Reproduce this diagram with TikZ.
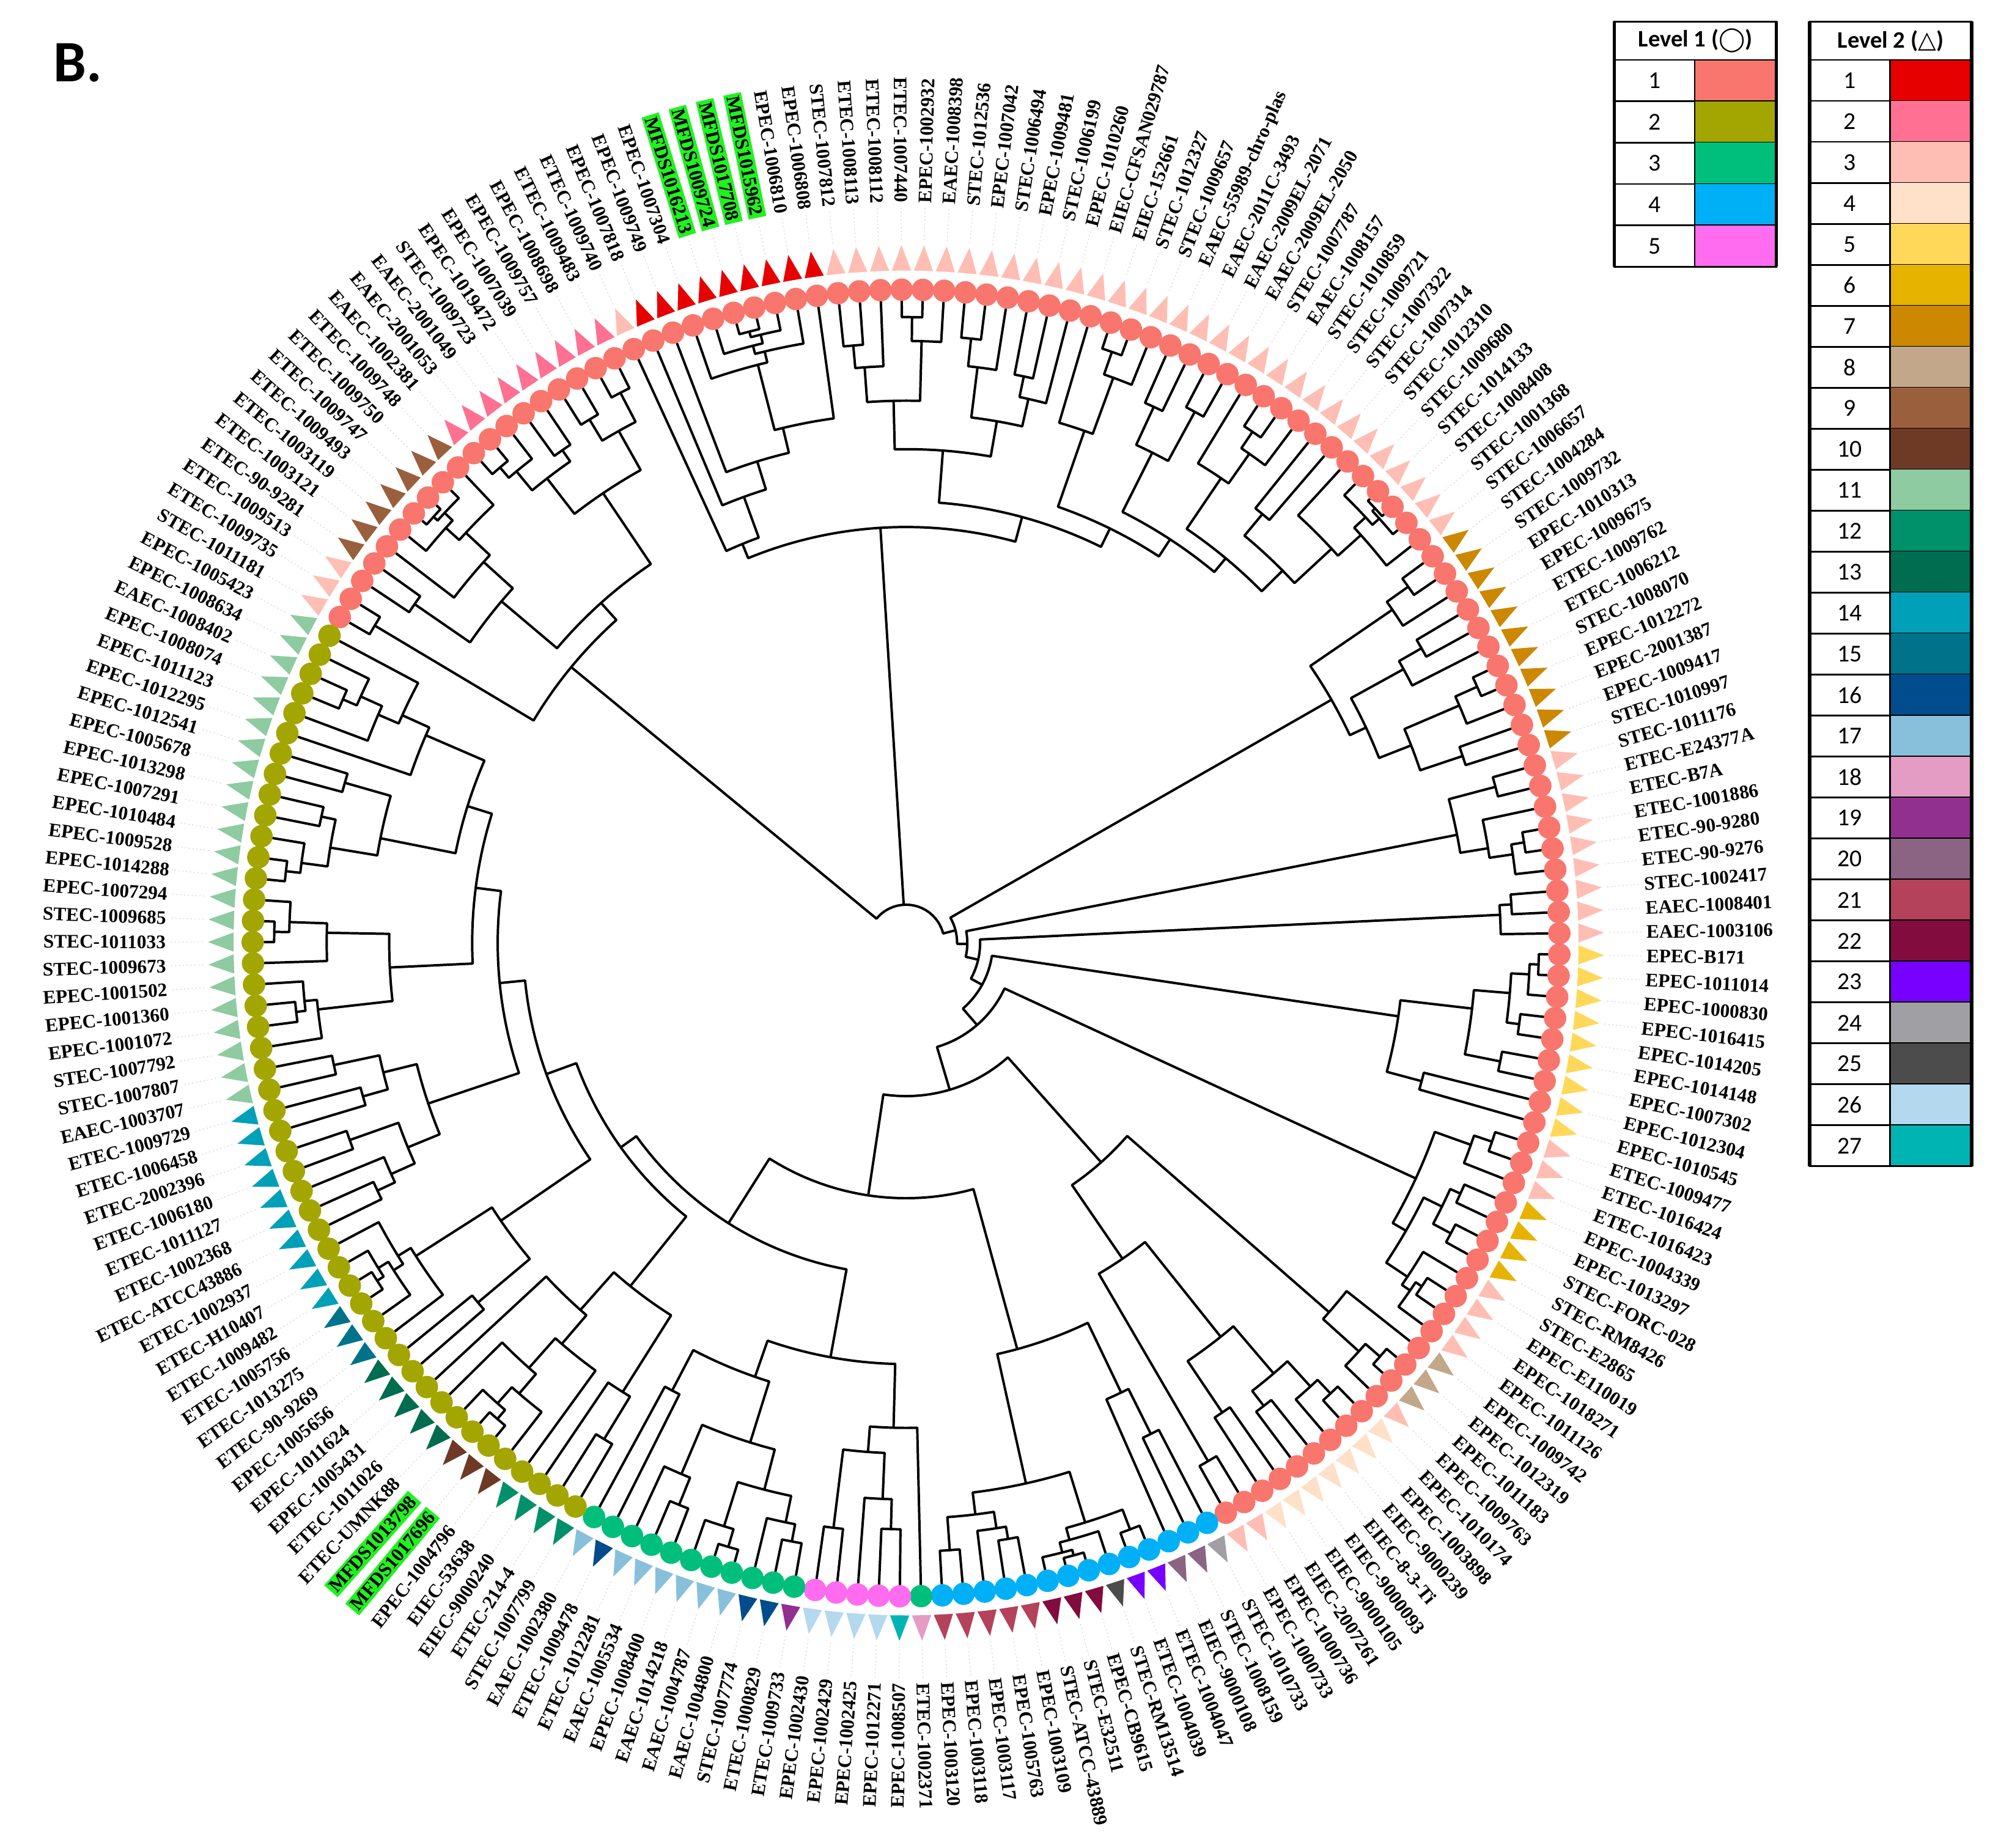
\documentclass[tikz,border=0pt]{standalone}
\usepackage{fontspec}
\setmainfont{Liberation Serif}
\newfontfamily\legfamily{Carlito}
\newfontfamily\symfamily{DejaVu Sans}
\usetikzlibrary{positioning}

% level 1 (circles)
\definecolor{lvA1}{HTML}{F8766D}
\definecolor{lvA2}{HTML}{A3A500}
\definecolor{lvA3}{HTML}{00BF7D}
\definecolor{lvA4}{HTML}{00B0F6}
\definecolor{lvA5}{HTML}{FF6CF0}
% level 2 (triangles)
\definecolor{lvB1}{HTML}{E60000}
\definecolor{lvB2}{HTML}{FF7092}
\definecolor{lvB3}{HTML}{FFBEB4}
\definecolor{lvB4}{HTML}{FFE0C8}
\definecolor{lvB5}{HTML}{FFD85A}
\definecolor{lvB6}{HTML}{E6B400}
\definecolor{lvB7}{HTML}{CC8800}
\definecolor{lvB8}{HTML}{C2A78A}
\definecolor{lvB9}{HTML}{9A5F3C}
\definecolor{lvB10}{HTML}{6E3A26}
\definecolor{lvB11}{HTML}{8ECBA0}
\definecolor{lvB12}{HTML}{00906A}
\definecolor{lvB13}{HTML}{006C50}
\definecolor{lvB14}{HTML}{00A0B8}
\definecolor{lvB15}{HTML}{00728A}
\definecolor{lvB16}{HTML}{004C8C}
\definecolor{lvB17}{HTML}{88C0DC}
\definecolor{lvB18}{HTML}{E49CC4}
\definecolor{lvB19}{HTML}{923090}
\definecolor{lvB20}{HTML}{8A6482}
\definecolor{lvB21}{HTML}{B4425A}
\definecolor{lvB22}{HTML}{820C3E}
\definecolor{lvB23}{HTML}{7800FF}
\definecolor{lvB24}{HTML}{A0A0A4}
\definecolor{lvB25}{HTML}{4C4C4C}
\definecolor{lvB26}{HTML}{B4D8EE}
\definecolor{lvB27}{HTML}{00B4B4}
\definecolor{hlgreen}{HTML}{22F022}

\def\thz{151.94}
\def\stp{1.86528}
\def\rleaf{503}

\tikzset{
  branch/.style={line width=1.9pt, line cap=round, line join=round},
  tag/.style={font=\bfseries\fontsize{15}{15}\selectfont, inner sep=0pt},
  taghl/.style={tag, fill=hlgreen, inner sep=2pt},
  guide/.style={black!14, line width=0.6pt, dash pattern=on 1.2pt off 1.8pt},
  cell/.style={line width=1.3pt},
  legnum/.style={font=\legfamily\fontsize{19}{19}\selectfont},
  leghead/.style={font=\legfamily\bfseries\fontsize{18.5}{18.5}\selectfont},
}

% radius of a child range under a parent radius
\newcommand\gchild[3]{%
  \ifnum#1=#2\relax\edef\gR{\rleaf}\else
    \pgfmathtruncatemacro\gI{mod(#1*3+#2*5,5)}%
    \ifcase\gI\def\gT{0.35}\or\def\gT{0.5}\or\def\gT{0.25}\or\def\gT{0.45}\or\def\gT{0.6}\fi
    \pgfmathsetmacro\gR{#3+(\rleaf-#3)*\gT}%
  \fi}

% subtree of leaves #1..#2 with its node at radius #3
\newcommand\gentree[3]{%
  \ifnum#1<#2\relax
  \begingroup
    \pgfmathtruncatemacro\gN{#2-#1+1}%
    \pgfmathtruncatemacro\gH{mod(#1*7+#2*13,6)}%
    \ifcase\gH\def\gF{0.5}\or\def\gF{0.3}\or\def\gF{0.7}\or\def\gF{0.22}\or\def\gF{0.82}\or\def\gF{0.55}\fi
    \pgfmathtruncatemacro\gM{max(1,min(\gN-1,round(\gN*\gF)))}%
    \pgfmathtruncatemacro\gK{#1+\gM-1}%
    \pgfmathtruncatemacro\gKK{\gK+1}%
    \gchild{#1}{\gK}{#3}\let\gRa\gR
    \gchild{\gKK}{#2}{#3}\let\gRb\gR
    \pgfmathsetmacro\gAa{\thz-\stp*(#1+\gK)/2}%
    \pgfmathsetmacro\gAb{\thz-\stp*(\gKK+#2)/2}%
    \draw[branch] (\gAa:\gRa pt) -- (\gAa:#3pt) arc[start angle=\gAa, end angle=\gAb, radius=#3pt] -- (\gAb:\gRb pt);
    \edef\gNext{\noexpand\gentree{#1}{\gK}{\gRa}\noexpand\gentree{\gKK}{#2}{\gRb}}%
  \expandafter\endgroup\gNext
  \fi}

% angle of a range: stored mean of its children, else the middle of the range
\newcommand\angof[2]{%
  \ifcsname aa@#1@#2\endcsname\edef\gA{\csname aa@#1@#2\endcsname}%
  \else\pgfmathsetmacro\gA{\thz-\stp*(#1+#2)/2}\fi}

% joins: leaves #1..#3 split after #2, node at radius #4
\newcommand\jnreg[4]{%
  \begingroup
    \expandafter\xdef\csname rr@#1@#3\endcsname{#4}%
    \pgfmathtruncatemacro\gKK{#2+1}%
    \angof{#1}{#2}\let\gAa\gA
    \angof{\gKK}{#3}\let\gAb\gA
    \pgfmathsetmacro\gA{(\gAa+\gAb)/2}%
    \expandafter\xdef\csname aa@#1@#3\endcsname{\gA}%
  \endgroup}
\newcommand\aureg[3]{\expandafter\xdef\csname rr@#1@#2\endcsname{#3}}
\newcommand\jndraw[4]{%
  \begingroup
    \pgfmathtruncatemacro\gKK{#2+1}%
    \ifnum#1=#2\relax\edef\gRa{\rleaf}\else\edef\gRa{\csname rr@#1@#2\endcsname}\fi
    \ifnum\gKK=#3\relax\edef\gRb{\rleaf}\else\edef\gRb{\csname rr@\gKK @#3\endcsname}\fi
    \angof{#1}{#2}\let\gAa\gA
    \angof{\gKK}{#3}\let\gAb\gA
    \draw[branch] (\gAa:\gRa pt) -- (\gAa:#4pt) arc[start angle=\gAa, end angle=\gAb, radius=#4pt] -- (\gAb:\gRb pt);
  \endgroup}

\newcommand\treelist{%
  \jn{1}{2}{19}{340}\au{1}{2}{485}
  \jn{3}{10}{19}{358}\au{3}{10}{415}\au{11}{19}{425}
  \jn{20}{29}{61}{326}
  \jn{20}{20}{29}{338}\jn{21}{21}{29}{372}\jn{22}{22}{29}{395}\au{23}{29}{415}
  \jn{30}{41}{61}{346}
  \jn{30}{35}{41}{387}\au{30}{35}{425}\au{36}{41}{415}
  \jn{42}{45}{61}{362}\au{42}{45}{425}
  \jn{46}{49}{61}{378}\au{46}{49}{430}
  \jn{50}{53}{61}{392}\au{50}{53}{440}\au{54}{61}{415}
  \jn{62}{72}{193}{40}
  \jn{62}{64}{72}{384}\au{62}{64}{462}
  \jn{65}{67}{72}{398}\au{65}{67}{445}\au{68}{72}{425}
  \jn{73}{78}{193}{48}\au{73}{78}{440}
  \jn{79}{81}{193}{58}\au{79}{81}{466}
  \jn{82}{90}{193}{68}\au{82}{90}{390}
  \jn{91}{101}{193}{85}
  \jn{91}{93}{101}{440}\au{91}{93}{470}
  \jn{94}{97}{101}{452}\au{94}{97}{468}\au{98}{101}{472}
  \jn{102}{114}{193}{120}
  \jn{102}{105}{114}{230}\au{102}{105}{440}
  \jn{106}{112}{114}{300}\au{106}{112}{395}\au{113}{114}{470}
  \jn{115}{128}{193}{200}\au{115}{128}{330}
  \jn{129}{145}{193}{260}
  \jn{129}{134}{145}{330}\jn{129}{129}{134}{380}\au{130}{134}{400}\au{135}{145}{360}
  \jn{146}{155}{193}{275}\au{146}{155}{345}
  \jn{156}{163}{193}{300}\au{156}{163}{385}
  \jn{164}{172}{193}{320}\au{164}{172}{395}
  \jn{173}{180}{193}{340}\au{173}{180}{405}
  \jn{181}{187}{193}{360}\au{181}{187}{420}\au{188}{193}{410}
}

\begin{document}
\begin{tikzpicture}[x=1pt, y=1pt]
\useasboundingbox (-710,-709) rectangle (858,739);

% panel letter
\node[font=\legfamily\bfseries\fontsize{46}{46}\selectfont] (panel) at (-649,690) {B.};

% dendrogram
\let\jn\jnreg \let\au\aureg
\foreach \pass in {1,...,14}{\treelist}
\let\jn\jndraw \let\au\gentree \treelist
\angof{1}{19}\let\aA\gA
\angof{20}{61}\let\aT\gA
\angof{62}{193}\let\aL\gA
\draw[branch] (\aA:340pt) -- (\aA:30pt) arc[start angle=\aA, end angle=\aL, radius=30pt] -- (\aL:40pt);
\draw[branch] (\aT:30pt) -- (\aT:326pt);

% leaves: label / level 1 / level 2
\foreach \lab/\cc/\tc [count=\n] in {
 STEC-1011181/1/3, ETEC-1009735/1/3, ETEC-1009513/1/3,
 ETEC-90-9281/1/9, ETEC-1003121/1/9, ETEC-1003119/1/9, ETEC-1009493/1/9, ETEC-1009747/1/9, ETEC-1009750/1/9, ETEC-1009748/1/9,
 EAEC-1002381/1/2, EAEC-2001053/1/2, EAEC-2001049/1/2, STEC-1009723/1/2, EPEC-1019472/1/2, EPEC-1007039/1/2, EPEC-1009757/1/2, EPEC-1008698/1/2, ETEC-1009483/1/2,
 ETEC-1009740/1/3,
 EPEC-1007818/1/1, EPEC-1009749/1/1, EPEC-1007304/1/1, MFDS1016213/1/1, MFDS1009724/1/1, MFDS1017708/1/1, MFDS1015962/1/1, EPEC-1006810/1/1, EPEC-1006808/1/1,
 STEC-1007812/1/3, ETEC-1008113/1/3, ETEC-1008112/1/3, ETEC-1007440/1/3, EPEC-1002932/1/3, EAEC-1008398/1/3, STEC-1012536/1/3, EPEC-1007042/1/3,
 STEC-1006494/1/3, EPEC-1009481/1/3, STEC-1006199/1/3, EPEC-1010260/1/3, EIEC-CFSAN029787/1/3, EIEC-152661/1/3, STEC-1012327/1/3, STEC-1009657/1/3,
 EAEC-55989-chro-plas/1/3, EAEC-2011C-3493/1/3, EAEC-2009EL-2071/1/3, EAEC-2009EL-2050/1/3, STEC-1007787/1/3, EAEC-1008157/1/3, STEC-1010859/1/3,
 STEC-1009721/1/3, STEC-1007322/1/3, STEC-1007314/1/3, STEC-1012310/1/3, STEC-1009680/1/3, STEC-1014133/1/3, STEC-1008408/1/3, STEC-1001368/1/3, STEC-1006657/1/3,
 STEC-1004284/1/7, STEC-1009732/1/7, EPEC-1010313/1/7, EPEC-1009675/1/7, ETEC-1009762/1/7, ETEC-1006212/1/7, STEC-1008070/1/7, EPEC-1012272/1/7, EPEC-2001387/1/7, EPEC-1009417/1/7, STEC-1010997/1/7,
 STEC-1011176/1/3, ETEC-E24377A/1/3, ETEC-B7A/1/3, ETEC-1001886/1/3, ETEC-90-9280/1/3, ETEC-90-9276/1/3, STEC-1002417/1/3, EAEC-1008401/1/3, EAEC-1003106/1/3,
 EPEC-B171/1/5, EPEC-1011014/1/5, EPEC-1000830/1/5, EPEC-1016415/1/5, EPEC-1014205/1/5, EPEC-1014148/1/5, EPEC-1007302/1/5, EPEC-1012304/1/5, EPEC-1010545/1/5,
 ETEC-1009477/1/3, ETEC-1016424/1/3, ETEC-1016423/1/3,
 EPEC-1004339/1/6, EPEC-1013297/1/6, STEC-FORC-028/1/6, STEC-RM8426/1/6,
 STEC-E2865/1/3, EPEC-E110019/1/3, EPEC-1018271/1/3, EPEC-1011126/1/3,
 EPEC-1009742/1/8, EPEC-1012319/1/8, EPEC-1011183/1/8,
 EPEC-1009763/1/3,
 EPEC-1010174/1/4, EPEC-1003898/1/4, EIEC-9000239/1/4, EIEC-8-3-Ti/1/4, EIEC-9000093/1/4, EIEC-9000105/1/4, EIEC-2007261/1/4,
 EPEC-1000736/1/3, EPEC-1000733/1/3,
 STEC-1010733/4/24, STEC-1008159/4/20, EIEC-9000108/4/20, ETEC-1004047/4/23, ETEC-1004039/4/23, STEC-RM13514/4/25, EPEC-CB9615/4/22, STEC-E32511/4/22,
 STEC-ATCC-43889/4/22, EPEC-1003109/4/21, EPEC-1005763/4/21, EPEC-1003117/4/21, EPEC-1003118/4/21, EPEC-1003120/4/21,
 ETEC-1002371/3/18,
 EPEC-1008507/5/27, EPEC-1012271/5/26, EPEC-1002425/5/26, EPEC-1002429/5/26, EPEC-1002430/5/26,
 ETEC-1009733/3/19, ETEC-1000829/3/16, STEC-1007774/3/16, EAEC-1004800/3/17, EAEC-1004787/3/17, EAEC-1014218/3/17, EPEC-1008400/3/17, EAEC-1005534/3/17,
 ETEC-1012281/3/17, ETEC-1009478/3/16, EAEC-1002380/3/17,
 STEC-1007799/2/12, ETEC-214-4/2/12, EIEC-9000240/2/12, EIEC-53638/2/12,
 EPEC-1004796/2/10, MFDS1017696/2/10, MFDS1013798/2/10,
 ETEC-UMNK88/2/13, ETEC-1011026/2/13, EPEC-1005431/2/13, EPEC-1011624/2/13, EPEC-1005656/2/13,
 ETEC-90-9269/2/15, ETEC-1013275/2/15, ETEC-1005756/2/15,
 ETEC-1009482/2/14, ETEC-H10407/2/14, ETEC-1002937/2/14, ETEC-ATCC43886/2/14, ETEC-1002368/2/14, ETEC-1011127/2/14, ETEC-1006180/2/14, ETEC-2002396/2/14, ETEC-1006458/2/14, ETEC-1009729/2/14,
 EAEC-1003707/2/11, STEC-1007807/2/11, STEC-1007792/2/11, EPEC-1001072/2/11, EPEC-1001360/2/11, EPEC-1001502/2/11, STEC-1009673/2/11, STEC-1011033/2/11,
 STEC-1009685/2/11, EPEC-1007294/2/11, EPEC-1014288/2/11, EPEC-1009528/2/11, EPEC-1010484/2/11, EPEC-1007291/2/11, EPEC-1013298/2/11, EPEC-1005678/2/11,
 EPEC-1012541/2/11, EPEC-1012295/2/11, EPEC-1011123/2/11, EPEC-1008074/2/11, EAEC-1008402/2/11, EPEC-1008634/2/11, EPEC-1005423/2/11}{
  \pgfmathsetmacro\a{\thz-\stp*\n}
  \fill[lvA\cc] (\a:512pt) circle[radius=8.8pt];
  \fill[lvB\tc] ({\a+0.82}:527pt) -- ({\a-0.82}:527pt) -- (\a:547pt) -- cycle;
  \draw[guide] (\a:551pt) -- (\a:577pt);
  \ifdim\a pt>90pt \def\anc{east}\pgfmathsetmacro\rot{\a+180}%
  \else\ifdim\a pt<-90pt \def\anc{east}\pgfmathsetmacro\rot{\a+180}%
  \else\def\anc{west}\let\rot\a\fi\fi
  \pgfmathtruncatemacro\hl{((\n>23)&&(\n<28))||(\n==151)||(\n==152)}
  \ifnum\hl=1 \def\tagst{taghl}\else\def\tagst{tag}\fi
  \node[\tagst, rotate=\rot, anchor=\anc] (lf\n) at (\a:580pt) {\lab};
}

% legend, level 1
\node[leghead] (lvAhead) at (618.5,707) {Level 1 ({\symfamily ◯})};
\foreach \k in {1,...,5}{
  \fill[lvA\k] (618,{692-32.4*\k}) rectangle (682,{692-32.4*(\k-1)});
  \node[legnum] (lvAn\k) at (586.5,{708.2-32.4*\k}) {\k};
  \draw[cell] (555,{692-32.4*\k}) -- (682,{692-32.4*\k});
}
\draw[cell] (555,722) rectangle (682,530);
\draw[cell] (555,692) -- (682,692) (618,692) -- (618,530);
\draw[line width=2.6pt] (555,722) -- (555,530) (682,722) -- (682,530);

% legend, level 2
\node[leghead] (lvBhead) at (771.5,707) {Level 2 ({\symfamily △})};
\foreach \k in {1,...,27}{
  \fill[lvB\k] (771,{692-32.11*\k}) rectangle (835,{692-32.11*(\k-1)});
  \node[legnum] (lvBn\k) at (739.5,{708.05-32.11*\k}) {\k};
  \draw[cell] (708,{692-32.11*\k}) -- (835,{692-32.11*\k});
}
\draw[cell] (708,722) rectangle (835,-175);
\draw[cell] (708,692) -- (835,692) (771,692) -- (771,-175);
\draw[line width=2.6pt] (708,722) -- (708,-175) (835,722) -- (835,-175);
\end{tikzpicture}
\end{document}
